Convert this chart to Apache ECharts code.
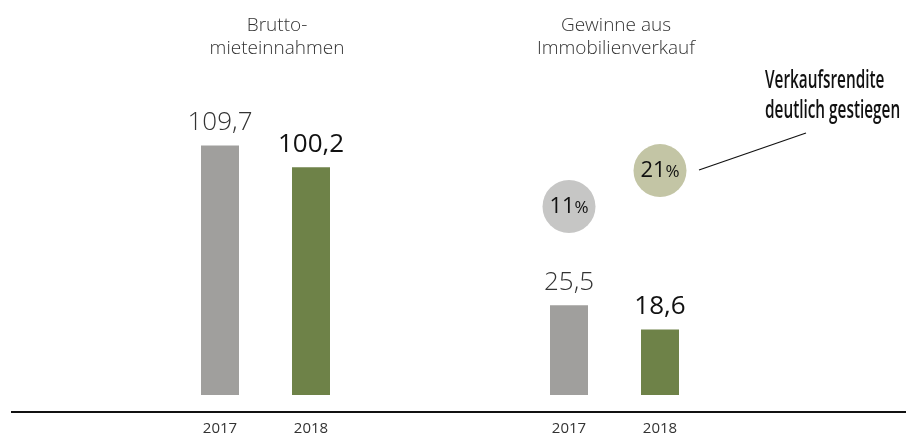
<!DOCTYPE html>
<html>
<head>
<meta charset="utf-8">
<script src="https://cdn.jsdelivr.net/npm/echarts@6/dist/echarts.min.js"></script>
<style>
  html, body { margin: 0; padding: 0; background: #ffffff; }
  #chart { width: 906px; height: 436px; }
</style>
</head>
<body>
<div id="chart"></div>
<script>
// Years shown under each panel
const years = ['2017', '2018'];
// Gross rental income (Mio. EUR)
const rentIncome = [109.7, 100.2];
// Gains from property sales (Mio. EUR)
const saleGains = [25.5, 18.6];
// Sales margin in percent
const saleMargins = [11, 21];
// Panel headings and callout
const panelTitles = ['Brutto-\nmieteinnahmen', 'Gewinne aus\nImmobilienverkauf'];
const calloutText = 'Verkaufsrendite\ndeutlich gestiegen';

const barColors = ['#a09f9d', '#6e8248'];
const bubbleColors = ['#c6c6c5', '#c3c5a5'];
const numFont = '"Open Sans", "Noto Sans", sans-serif';

const fmt = v => String(v).replace('.', ',');

function barData(values) {
  return values.map((v, i) => ({
    value: v,
    itemStyle: { color: barColors[i] },
    label: i === 0
      ? { color: '#333333', fontWeight: 300 }
      : { color: '#111111', fontWeight: 400 }
  }));
}

const chart = echarts.init(document.getElementById('chart'), null, { renderer: 'canvas' });

const xAxisBase = {
  type: 'category',
  data: years,
  axisLine: { show: false },
  axisTick: { show: false },
  axisLabel: { margin: 26, fontFamily: numFont, fontSize: 15, color: '#333333' }
};
const yAxisBase = {
  type: 'value',
  min: 0,
  show: false,
  splitLine: { show: false }
};

const barLabel = {
  show: true,
  position: 'top',
  distance: 10,
  fontFamily: numFont,
  fontSize: 26,
  formatter: p => fmt(p.value)
};

chart.setOption({
  animation: false,
  grid: [
    { left: 174.5, width: 182, top: 54, bottom: 40 },
    { left: 523.5, width: 182, top: 43, bottom: 40 }
  ],
  xAxis: [
    { ...xAxisBase, gridIndex: 0 },
    { ...xAxisBase, gridIndex: 1 }
  ],
  yAxis: [
    { ...yAxisBase, gridIndex: 0, max: 150 },
    { ...yAxisBase, gridIndex: 1, max: 100 },
    // separate scale for the margin bubbles
    { ...yAxisBase, gridIndex: 1, min: -41.5, max: 56.55 }
  ],
  series: [
    {
      type: 'bar',
      xAxisIndex: 0,
      yAxisIndex: 0,
      barWidth: 38,
      data: barData(rentIncome),
      label: barLabel
    },
    {
      type: 'bar',
      xAxisIndex: 1,
      yAxisIndex: 1,
      barWidth: 38,
      data: barData(saleGains),
      label: barLabel
    },
    {
      type: 'scatter',
      xAxisIndex: 1,
      yAxisIndex: 2,
      symbolSize: 53,
      clip: false,
      data: saleMargins.map((v, i) => ({ value: [i, v], itemStyle: { color: bubbleColors[i], opacity: 1 } })),
      label: {
        show: true,
        position: 'inside',
        formatter: p => '{n|' + p.value[1] + '}{p|%}',
        rich: {
          n: { fontFamily: numFont, fontSize: 22, color: '#111111' },
          p: { fontFamily: numFont, fontSize: 17, color: '#111111', padding: [3, 0, 0, 0] }
        }
      }
    }
  ],
  graphic: [
    {
      type: 'text',
      x: 277, y: 37,
      style: {
        text: panelTitles[0], textAlign: 'center', textVerticalAlign: 'middle',
        fontFamily: numFont, fontWeight: 300, fontSize: 19, lineHeight: 23.5, fill: '#333333'
      }
    },
    {
      type: 'text',
      x: 616, y: 37,
      style: {
        text: panelTitles[1], textAlign: 'center', textVerticalAlign: 'middle',
        fontFamily: numFont, fontWeight: 300, fontSize: 19, lineHeight: 23.5, fill: '#333333'
      }
    },
    {
      type: 'text',
      x: 765, y: 96,
      scaleX: 0.59,
      style: {
        text: calloutText, textAlign: 'left', textVerticalAlign: 'middle',
        fontFamily: numFont, fontWeight: 600, fontSize: 26, lineHeight: 30, fill: '#111111'
      }
    },
    {
      type: 'line',
      shape: { x1: 699, y1: 170, x2: 806, y2: 133 },
      style: { stroke: '#111111', lineWidth: 1.2 }
    },
    {
      type: 'line',
      shape: { x1: 11, y1: 412, x2: 906, y2: 412 },
      style: { stroke: '#111111', lineWidth: 2 }
    }
  ]
});
</script>
</body>
</html>
